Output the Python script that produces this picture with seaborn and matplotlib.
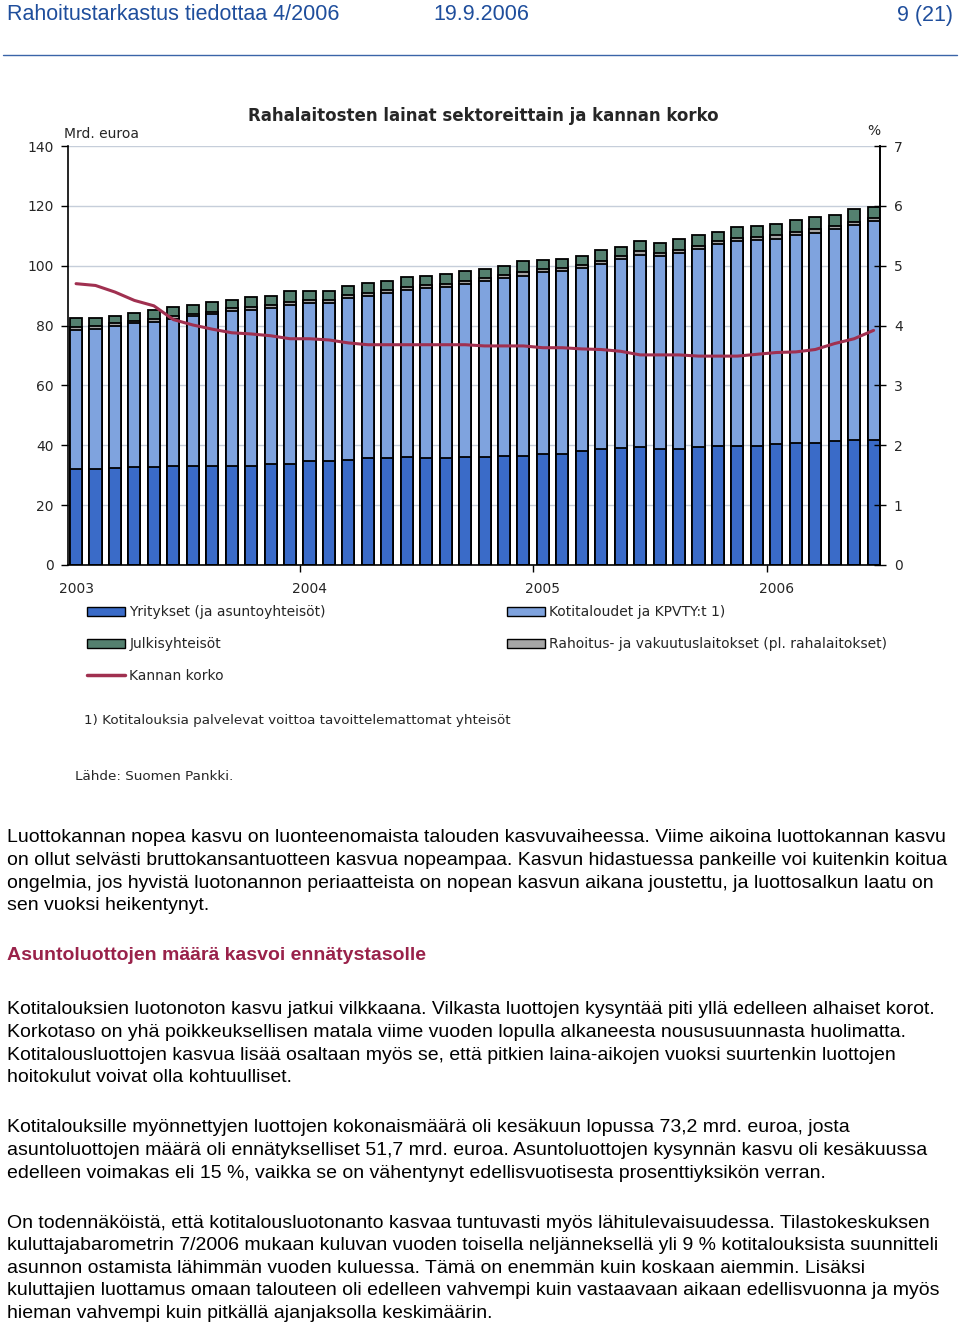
import numpy as np
import pandas as pd
import matplotlib.pyplot as plt
import seaborn as sns
from matplotlib.patches import Patch
from matplotlib.lines import Line2D

# Monthly data Jan 2003 - Jun 2006 (bn EUR and %)
months = pd.period_range("2003-01", "2006-06", freq="M").strftime("%Y-%m").tolist()
yritykset = [32.0, 32.0, 32.4, 32.9, 32.9, 33.2, 33.2, 33.2, 33.2, 33.2, 33.8, 33.8,
             34.8, 34.8, 35.0, 35.7, 35.7, 36.0, 35.7, 35.7, 36.0, 36.0, 36.5, 36.5,
             37.0, 37.0, 38.2, 38.6, 39.0, 39.4, 38.8, 38.8, 39.3, 39.8, 39.8, 39.8,
             40.3, 40.7, 40.7, 41.3, 41.8, 41.8]
kotitaloudet = [46.4, 46.9, 47.4, 47.8, 48.3, 49.0, 49.9, 50.5, 51.6, 52.1, 52.0, 53.0,
                52.8, 52.8, 54.1, 54.2, 55.3, 56.0, 56.7, 57.2, 57.9, 59.0, 59.4, 60.2,
                60.8, 61.1, 61.1, 61.9, 63.1, 64.3, 64.4, 65.3, 66.3, 67.3, 68.3, 68.7,
                68.7, 69.5, 70.3, 71.0, 71.8, 73.0]
rahoitus = [1.0, 0.9, 0.9, 0.9, 1.1, 1.0, 0.9, 1.0, 1.0, 1.0, 1.0, 1.0,
            1.0, 1.0, 1.1, 1.0, 1.0, 1.0, 1.0, 1.0, 1.0, 0.9, 1.0, 1.2,
            1.0, 1.1, 1.0, 1.1, 1.0, 1.1, 1.0, 1.1, 1.0, 1.0, 1.1, 1.0,
            1.1, 1.2, 1.2, 1.0, 1.1, 1.1]
julkis = [3.0, 2.6, 2.6, 2.6, 3.0, 3.1, 2.8, 3.2, 2.9, 3.1, 3.1, 3.9,
          3.1, 3.1, 3.1, 3.4, 3.0, 3.2, 3.1, 3.4, 3.3, 2.9, 2.9, 3.6,
          3.1, 3.1, 3.1, 3.8, 3.2, 3.4, 3.5, 3.6, 3.6, 3.1, 3.7, 3.7,
          3.7, 3.8, 4.0, 3.8, 4.1, 3.6]
korko = [4.70, 4.67, 4.56, 4.42, 4.33, 4.10, 4.01, 3.94, 3.88, 3.86, 3.83, 3.78,
         3.78, 3.76, 3.71, 3.68, 3.68, 3.68, 3.68, 3.68, 3.68, 3.66, 3.66, 3.66,
         3.63, 3.63, 3.61, 3.60, 3.57, 3.51, 3.51, 3.51, 3.49, 3.49, 3.49, 3.52,
         3.55, 3.56, 3.60, 3.70, 3.78, 3.92]
year_labels = ["2003", "2004", "2005", "2006"]

c_yr = "#3A6BC8"
c_koti = "#7FA3DE"
c_rah = "#A6A6A6"
c_julk = "#54806F"
c_korko = "#A03050"
blue_txt = "#1F4E9C"
red_txt = "#99224A"

df = pd.DataFrame({"kk": months, "yr": yritykset, "koti": kotitaloudet,
                   "rah": rahoitus, "julk": julkis, "korko": korko})
df["s1"] = df["yr"]
df["s2"] = df["s1"] + df["koti"]
df["s3"] = df["s2"] + df["rah"]
df["s4"] = df["s3"] + df["julk"]

sns.set_theme(style="white")
plt.rcParams["font.family"] = ["DejaVu Sans"]

W, H = 960, 1326
fig = plt.figure(figsize=(W / 100, H / 100), dpi=100)


def fx(x):
    return x / W


def fy(y):
    return 1 - y / H


ax = fig.add_axes([fx(67.7), fy(565), fx(880) - fx(67.7), (565 - 146) / H])

# stacked bars drawn as overlaid cumulative sums, tallest first
for col, color in [("s4", c_julk), ("s3", c_rah), ("s2", c_koti), ("s1", c_yr)]:
    sns.barplot(data=df, x="kk", y=col, color=color, saturation=1, width=0.62,
                edgecolor="black", linewidth=1.3, ax=ax)

ax.set_ylim(0, 140)
ax.set_yticks(range(0, 141, 20))
ax.yaxis.grid(True, color="#C6CEDA", lw=1)
ax.set_axisbelow(True)
ax.set_xlabel("")
ax.set_ylabel("")
ax.set_xticks([0, 12, 24, 36])
ax.set_xticklabels(year_labels)
ax.set_xticks([-0.5, 11.5, 23.5, 35.5], minor=True)
ax.tick_params(axis="x", which="major", length=0, pad=12, labelsize=10)
ax.tick_params(axis="x", which="minor", length=5, width=1, color="black", bottom=True)
ax.tick_params(axis="y", length=5, width=1, color="black", left=True, pad=5, labelsize=10)
for s in ["left", "bottom", "right"]:
    ax.spines[s].set_color("black")
    ax.spines[s].set_linewidth(1.2)
ax.spines["top"].set_visible(False)

ax2 = ax.twinx()
sns.lineplot(x=np.arange(len(korko)), y=korko, color=c_korko, lw=2.2, ax=ax2)
ax2.set_ylim(0, 7)
ax2.set_yticks(range(0, 8))
ax2.tick_params(axis="y", direction="inout", length=8, width=1, color="black",
                right=True, pad=6, labelsize=10)
ax2.grid(False)
for s in ["top", "left", "bottom"]:
    ax2.spines[s].set_visible(False)
ax2.spines["right"].set_color("black")
ax2.spines["right"].set_linewidth(1.2)
ax.set_xlim(-0.43, 41.33)

fig.text(fx(483), fy(116), "Rahalaitosten lainat sektoreittain ja kannan korko",
         ha="center", va="center", fontsize=12, fontweight="bold")
fig.text(fx(64), fy(134), "Mrd. euroa", ha="left", va="center", fontsize=10)
fig.text(fx(874), fy(131), "%", ha="center", va="center", fontsize=10)

# legend in two columns
leg_kw = dict(loc="upper left", frameon=False, fontsize=10, labelspacing=1.3,
              handlelength=2.75, handleheight=0.6, handletextpad=0.3, borderpad=0,
              borderaxespad=0)
h1 = [Patch(facecolor=c_yr, edgecolor="black"), Patch(facecolor=c_julk, edgecolor="black"),
      Line2D([], [], color=c_korko, lw=2.5)]
fig.legend(h1, ["Yritykset (ja asuntoyhteisöt)", "Julkisyhteisöt", "Kannan korko"],
           bbox_to_anchor=(fx(87), fy(605)), **leg_kw)
h2 = [Patch(facecolor=c_koti, edgecolor="black"), Patch(facecolor=c_rah, edgecolor="black")]
fig.legend(h2, ["Kotitaloudet ja KPVTY:t 1)", "Rahoitus- ja vakuutuslaitokset (pl. rahalaitokset)"],
           bbox_to_anchor=(fx(507), fy(605)), **leg_kw)

fig.text(fx(84), fy(721), "1) Kotitalouksia palvelevat voittoa tavoittelemattomat yhteisöt",
         ha="left", va="center", fontsize=9.7)
fig.text(fx(75), fy(776), "Lähde: Suomen Pankki.", ha="left", va="center", fontsize=9.7)

# page header
hdr = dict(va="center", fontsize=15.5, color=blue_txt, family=["Liberation Sans", "DejaVu Sans"])
fig.text(fx(7), fy(15), "Rahoitustarkastus tiedottaa 4/2006", ha="left", **hdr)
fig.text(fx(433), fy(15), "19.9.2006", ha="left", **hdr)
fig.text(fx(953), fy(15), "9 (21)", ha="right", **hdr)
fig.add_artist(Line2D([fx(3), fx(957)], [fy(55), fy(55)], color="#3A64A8", lw=1))

# body text
p1 = ["Luottokannan nopea kasvu on luonteenomaista talouden kasvuvaiheessa. Viime aikoina luottokannan kasvu",
      "on ollut selvästi bruttokansantuotteen kasvua nopeampaa. Kasvun hidastuessa pankeille voi kuitenkin koitua",
      "ongelmia, jos hyvistä luotonannon periaatteista on nopean kasvun aikana joustettu, ja luottosalkun laatu on",
      "sen vuoksi heikentynyt."]
p2 = ["Kotitalouksien luotonoton kasvu jatkui vilkkaana. Vilkasta luottojen kysyntää piti yllä edelleen alhaiset korot.",
      "Korkotaso on yhä poikkeuksellisen matala viime vuoden lopulla alkaneesta noususuunnasta huolimatta.",
      "Kotitalousluottojen kasvua lisää osaltaan myös se, että pitkien laina-aikojen vuoksi suurtenkin luottojen",
      "hoitokulut voivat olla kohtuulliset."]
p3 = ["Kotitalouksille myönnettyjen luottojen kokonaismäärä oli kesäkuun lopussa 73,2 mrd. euroa, josta",
      "asuntoluottojen määrä oli ennätykselliset 51,7 mrd. euroa. Asuntoluottojen kysynnän kasvu oli kesäkuussa",
      "edelleen voimakas eli 15 %, vaikka se on vähentynyt edellisvuotisesta prosenttiyksikön verran."]
p4 = ["On todennäköistä, että kotitalousluotonanto kasvaa tuntuvasti myös lähitulevaisuudessa. Tilastokeskuksen",
      "kuluttajabarometrin 7/2006 mukaan kuluvan vuoden toisella neljänneksellä yli 9 % kotitalouksista suunnitteli",
      "asunnon ostamista lähimmän vuoden kuluessa. Tämä on enemmän kuin koskaan aiemmin. Lisäksi",
      "kuluttajien luottamus omaan talouteen oli edelleen vahvempi kuin vastaavaan aikaan edellisvuonna ja myös",
      "hieman vahvempi kuin pitkällä ajanjaksolla keskimäärin."]

body = dict(ha="left", va="center", fontsize=14.0, color="black",
            family=["Liberation Sans", "DejaVu Sans"])
for y0, lines in [(838, p1), (1010, p2), (1128, p3), (1223, p4)]:
    for i, line in enumerate(lines):
        fig.text(fx(7), fy(y0 + i * 22.6), line, **body)

fig.text(fx(7), fy(956), "Asuntoluottojen määrä kasvoi ennätystasolle", ha="left", va="center",
         fontsize=14.0, fontweight="bold", color=red_txt, family=["Liberation Sans", "DejaVu Sans"])

fig.savefig("out.png", dpi=100)
